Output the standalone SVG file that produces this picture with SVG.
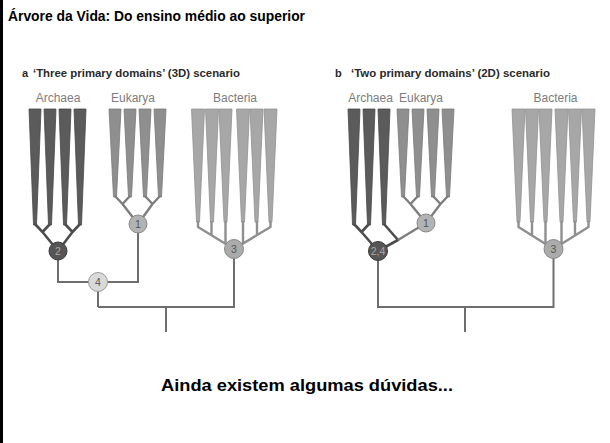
<svg xmlns="http://www.w3.org/2000/svg" width="610" height="443" viewBox="0 0 610 443">
<style>
.title{font-family:"Liberation Sans",Arial,sans-serif;font-weight:bold;fill:#000}
.ptitle{font-family:"Liberation Sans",Arial,sans-serif;font-weight:bold;font-size:11px;fill:#2a2a2a}
.lab{font-family:"Liberation Sans",Arial,sans-serif;font-size:12px;fill:#7d7d7d;text-anchor:middle}
.arc{fill:#5b5b5b;stroke:#474747;stroke-width:0.8}
.euk{fill:#8f8f8f;stroke:#7a7a7a;stroke-width:0.8}
.bac{fill:#a7a7a7;stroke:#929292;stroke-width:0.8}
.la{stroke:#4d4d4d;stroke-width:2.6;fill:none;stroke-linejoin:round}
.le{stroke:#7e7e7e;stroke-width:2.4;fill:none;stroke-linejoin:round}
.lb{stroke:#8f8f8f;stroke-width:2.4;fill:none;stroke-linejoin:round}
.ln{stroke:#6e6e6e;stroke-width:2;fill:none}
.nt{font-family:"Liberation Sans",Arial,sans-serif;font-size:10.5px;text-anchor:middle}
</style>
<rect x="0" y="0" width="3" height="443" fill="#000"/>
<text class="title" x="8" y="21" font-size="14" textLength="297" lengthAdjust="spacingAndGlyphs">Árvore da Vida: Do ensino médio ao superior</text>
<text class="title" x="161" y="390.5" font-size="17" textLength="292" lengthAdjust="spacingAndGlyphs">Ainda existem algumas dúvidas...</text>

<!-- panel a -->
<text class="ptitle" x="22" y="77">a</text>
<text class="ptitle" x="33" y="77" textLength="207" lengthAdjust="spacingAndGlyphs">‘Three primary domains’ (3D) scenario</text>
<text class="lab" x="58" y="102">Archaea</text>
<text class="lab" x="133" y="102">Eukarya</text>
<text class="lab" x="235" y="102">Bacteria</text>

<!-- panel b -->
<text class="ptitle" x="335" y="77">b</text>
<text class="ptitle" x="351" y="77" textLength="199" lengthAdjust="spacingAndGlyphs">‘Two primary domains’ (2D) scenario</text>
<text class="lab" x="370.5" y="102">Archaea</text>
<text class="lab" x="421" y="102">Eukarya</text>
<text class="lab" x="555.5" y="102">Bacteria</text>

<g id="leaves">
<polygon class="arc" points="29,109 41,109 36.5,225 33.5,225"/>
<polygon class="arc" points="44,109 56,109 51.5,225 48.5,225"/>
<polygon class="arc" points="59,109 71,109 66.5,225 63.5,225"/>
<polygon class="arc" points="74,109 86,109 81.5,225 78.5,225"/>
<polygon class="euk" points="109,109 121,109 116.5,197 113.5,197"/>
<polygon class="euk" points="124,109 136,109 131.5,197 128.5,197"/>
<polygon class="euk" points="139,109 151,109 146.5,197 143.5,197"/>
<polygon class="euk" points="154,109 166,109 161.5,197 158.5,197"/>
<polygon class="bac" points="191.5,109 204.5,109 199.5,222 196.5,222"/>
<polygon class="bac" points="205.5,109 218.5,109 213.5,222 210.5,222"/>
<polygon class="bac" points="219,109 232,109 227,222 224,222"/>
<polygon class="bac" points="236.5,109 249.5,109 244.5,222 241.5,222"/>
<polygon class="bac" points="250,109 263,109 258,222 255,222"/>
<polygon class="bac" points="264,109 277,109 272,222 269,222"/>
<polygon class="arc" points="348,109 360,109 355.5,225 352.5,225"/>
<polygon class="arc" points="363,109 375,109 370.5,225 367.5,225"/>
<polygon class="arc" points="378,109 390,109 385.5,225 382.5,225"/>
<polygon class="euk" points="397,109 409,109 404.5,197 401.5,197"/>
<polygon class="euk" points="412,109 424,109 419.5,197 416.5,197"/>
<polygon class="euk" points="427,109 439,109 434.5,197 431.5,197"/>
<polygon class="euk" points="442,109 454,109 449.5,197 446.5,197"/>
<polygon class="bac" points="512,109 525,109 520,222 517,222"/>
<polygon class="bac" points="525.5,109 538.5,109 533.5,222 530.5,222"/>
<polygon class="bac" points="539,109 552,109 547,222 544,222"/>
<polygon class="bac" points="555,109 568,109 563,222 560,222"/>
<polygon class="bac" points="568.5,109 581.5,109 576.5,222 573.5,222"/>
<polygon class="bac" points="582,109 595,109 590,222 587,222"/>
</g>

<g id="connectors">
<path class="la" d="M35,224 L42.5,232 L50,224 M42.5,232 L58,251 M65,224 L72.5,232 L80,224 M72.5,232 L58,251"/>
<path class="le" d="M115,196 L122.5,204 L130,196 M122.5,204 L138,224 M145,196 L152.5,204 L160,196 M152.5,204 L138,224"/>
<path class="lb" d="M198,221 L198,227 L234,249 M211.5,221 L211.5,235 M225.5,221 L225.5,243 M270.5,221 L270.5,227 L234,249 M257,221 L257,235 M243,221 L243,243"/>
<path class="ln" d="M58,251 V282 H138 V224 M98,282 V307 M98,307 H234 V249 M166,307 V332"/>
<path class="la" d="M354,224 L361.5,232 L369,224 M361.5,232 L378,251 M384,224 L398,240 L378,251"/>
<path class="le" d="M398,240 L426,223"/>
<path class="le" d="M403,196 L410.5,204 L418,196 M410.5,204 L426,223 M433,196 L440.5,204 L448,196 M440.5,204 L426,223"/>
<path class="lb" d="M518.5,221 L518.5,227 L553.5,249 M532,221 L532,235.5 M545.5,221 L545.5,244 M588.5,221 L588.5,227 L553.5,249 M575,221 L575,235.5 M561.5,221 L561.5,244"/>
<path class="ln" d="M378,251 V307 H553.5 V249 M465,307 V332"/>
</g>

<g id="node-a2"><circle cx="58" cy="251" r="9" fill="#565656" stroke="#3c3c3c" stroke-width="1"/><text class="nt" x="58" y="255" fill="#a8a8a8">2</text></g>
<g id="node-a1"><circle cx="138" cy="224" r="9" fill="#b3b3b3" stroke="#888" stroke-width="1"/><text class="nt" x="138" y="228" fill="#555">1</text></g>
<g id="node-a4"><circle cx="98" cy="282" r="9.5" fill="#d9d9d9" stroke="#999" stroke-width="1"/><text class="nt" x="98" y="286" fill="#555">4</text></g>
<g id="node-a3"><circle cx="234" cy="249" r="9.5" fill="#ababab" stroke="#888" stroke-width="1"/><text class="nt" x="234" y="253" fill="#555">3</text></g>
<g id="node-b24"><circle cx="378" cy="251" r="9.5" fill="#565656" stroke="#3c3c3c" stroke-width="1"/><text class="nt" x="378" y="255" fill="#a8a8a8" font-size="9.5">2,4</text></g>
<g id="node-b1"><circle cx="426" cy="223" r="9" fill="#b3b3b3" stroke="#888" stroke-width="1"/><text class="nt" x="426" y="227" fill="#555">1</text></g>
<g id="node-b3"><circle cx="553.5" cy="249" r="9.5" fill="#ababab" stroke="#888" stroke-width="1"/><text class="nt" x="553.5" y="253" fill="#555">3</text></g>
</svg>
